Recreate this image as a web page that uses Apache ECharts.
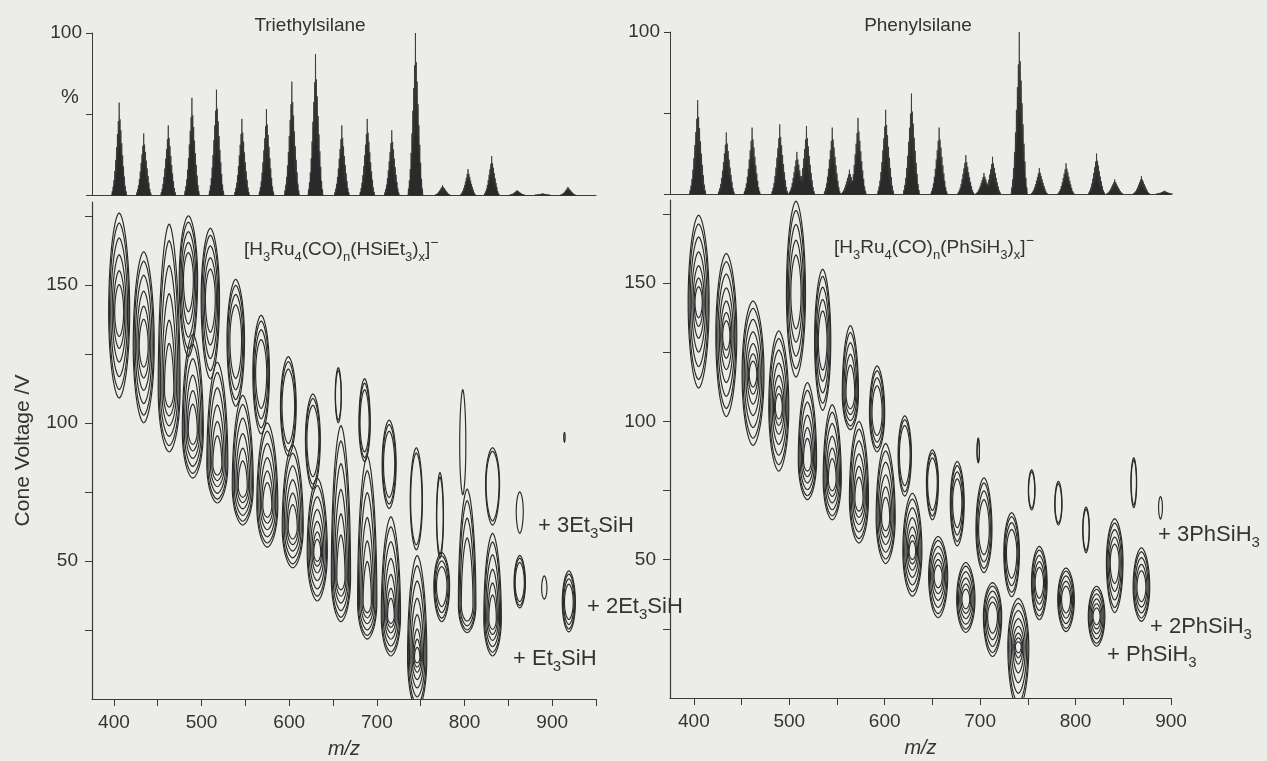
<!DOCTYPE html>
<html>
<head>
<meta charset="utf-8">
<script src="https://cdn.jsdelivr.net/npm/echarts@6/dist/echarts.min.js"></script>
<style>
  html, body { margin: 0; padding: 0; background: #ecece9; }
  #chart { width: 1267px; height: 761px; }
</style>
</head>
<body>
<div id="chart"></div>
<script>
// ---- Summed ESI(-) spectra: cluster centre m/z and relative intensity (%) ----
const ET_PEAK_MZ  = [406, 434, 462, 489, 517, 546, 574, 603, 630, 660, 689, 717, 744, 775, 804, 831, 860, 889, 918];
const ET_PEAK_PCT = [57, 38, 43, 60, 65, 47, 53, 70, 87, 43, 47, 40, 100, 6, 16, 24, 3, 1, 5];

const PH_PEAK_MZ  = [404, 434, 461, 490, 508, 518, 545, 563, 572, 601, 628, 657, 685, 704, 713, 741, 762, 790, 822, 841, 869, 893];
const PH_PEAK_PCT = [58, 38, 41, 43, 26, 42, 41, 15, 47, 52, 62, 41, 24, 13, 23, 100, 16, 19, 25, 9, 11, 2];

// Ru4 isotope envelope of one cluster: offset from centre (Da) and relative height
const ISOTOPE_OFFSETS = [-8, -7, -6, -5, -4, -3, -2, -1, 0, 1, 2, 3, 4, 5, 6, 7, 8];
const ISOTOPE_REL     = [0.04, 0.09, 0.16, 0.26, 0.38, 0.52, 0.66, 0.8, 1.0, 0.82, 0.7, 0.56, 0.43, 0.31, 0.2, 0.1, 0.04];

// ---- Cone-voltage maps: one entry per contour island ----
// [m/z, top V, bottom V, half-width (Da), contour rings, V of innermost ring]
const ET_ISLANDS = [
  [406, 176, 109, 12, 6, 140],
  [434, 162, 100, 12, 6, 128],
  [463, 172, 89.5, 12.5, 6, 112],
  [485, 175, 124, 10.5, 5, 152],
  [490, 132, 80, 12, 6, 97],
  [510, 170.5, 116, 10.5, 5, 145],
  [518, 122, 71, 12, 6, 85],
  [539, 152, 106, 10, 4, 130],
  [547, 110, 63, 12, 6, 77],
  [568, 139, 96, 9.5, 4, 118],
  [575, 100, 55, 12, 6, 70],
  [599, 124, 88, 9, 3, 106],
  [604, 92, 47.5, 12, 6, 62],
  [627, 110.5, 76, 8.5, 3, 94],
  [632, 80, 35.5, 11.5, 7, 53],
  [656, 120, 100, 3.5, 2, 110],
  [659, 99, 28, 11, 6, 44],
  [686, 116, 86, 6.5, 3, 100],
  [689, 88, 21.7, 11, 6, 35],
  [714, 101, 69, 8, 3, 85],
  [716, 66, 15.6, 11, 7, 30],
  [745, 91, 54, 7, 2, 72],
  [746, 52, -4, 11, 8, 15],
  [772, 82, 51, 4, 2, 66],
  [774, 53, 28, 9, 4, 41],
  [798, 112, 74, 3.5, 1, 92],
  [803, 76, 24, 10, 4, 34],
  [832, 91, 63, 8, 2, 78],
  [832, 60, 15.6, 10, 6, 29],
  [863, 75, 60, 4, 1, 68],
  [863, 52, 33, 6.5, 3, 42],
  [891, 44.6, 36.2, 3, 1, 40],
  [919, 46.4, 24.3, 7.5, 4, 35],
  [914, 96.5, 93, 0.8, 1, 95]
];

const PH_ISLANDS = [
  [405, 174.5, 112, 11, 7, 143],
  [434, 160.7, 101.7, 11, 7, 131],
  [462, 143.5, 91.3, 11.5, 7, 117],
  [489, 132.7, 82, 10.5, 7, 105],
  [507, 179.6, 116, 10, 5, 146],
  [519, 114, 71.7, 9.6, 6, 86],
  [535, 155, 104, 8.5, 5, 129],
  [545, 106, 64.4, 9.5, 6, 79],
  [564, 134.6, 97, 8.5, 5, 110],
  [573, 100, 56, 10, 6, 72],
  [592, 120, 89, 8, 4, 103],
  [601, 92, 48.6, 10, 6, 65],
  [621, 102, 73, 7, 3, 88],
  [629, 74, 36.8, 10, 7, 53],
  [650, 89.7, 64.4, 6.3, 3, 78],
  [656, 58.4, 29, 10, 6, 44],
  [676, 85.5, 55, 7.3, 4, 70.6],
  [685, 49, 23.7, 9.6, 6, 35.6],
  [698, 94, 85, 1.3, 2, 89],
  [704, 79.6, 45.3, 8.4, 4, 60.8],
  [713, 41.7, 15, 9.6, 5, 29.5],
  [733, 67, 36.6, 8.2, 4, 52.5],
  [740, 36, -4, 11, 8, 18.6],
  [754, 82.5, 68, 3.5, 2, 75],
  [762, 54.8, 28.3, 8.2, 5, 41.7],
  [782, 78.3, 62.6, 3.8, 2, 70],
  [790, 47, 24, 8.7, 5, 35.6],
  [811, 69, 52.5, 3.5, 2, 61],
  [822, 40.4, 18.7, 8.7, 6, 29.5],
  [841, 64.8, 30.9, 8.7, 5, 49],
  [861, 86.8, 68.8, 3, 2, 78],
  [869, 54.3, 27.7, 8.7, 5, 40],
  [889, 72.8, 64.7, 2, 1, 69]
];

// Relative size of successive contour levels, outermost first
const RING_SCALE = [1, 0.9, 0.75, 0.58, 0.42, 0.28, 0.18, 0.1];

// ---- Axis ticks and labels ----
const MZ_TICKS_ET = [400, 450, 500, 550, 600, 650, 700, 750, 800, 850, 900, 950];
const MZ_TICKS_PH = [400, 450, 500, 550, 600, 650, 700, 750, 800, 850, 900];
const MZ_LABELS   = [400, 500, 600, 700, 800, 900];
const CV_TICKS    = [25, 50, 75, 100, 125, 150, 175];
const CV_LABELS   = [50, 100, 150];
const PCT_TICKS   = [0, 50, 100];
const PCT_LABELS  = [100];

const FONT = "'Liberation Sans', Arial, sans-serif";
const INK = '#333';
const LINE = '#3a3a3a';
const FS = 19;
const FS_NOTE = 22;

// One isotope cluster drawn as a jagged filled envelope of narrow spikes
function renderCluster(params, api) {
  const mz = api.value(0), pct = api.value(1);
  const h = ISOTOPE_REL.map(r => r * pct);
  const n = ISOTOPE_OFFSETS.length;
  const pts = [api.coord([mz + ISOTOPE_OFFSETS[0] - 0.7, 0])];
  for (let i = 0; i < n; i++) {
    const m = mz + ISOTOPE_OFFSETS[i];
    const left = i > 0 ? 0.55 * Math.min(h[i], h[i - 1]) : 0;
    const right = i < n - 1 ? 0.55 * Math.min(h[i], h[i + 1]) : 0;
    pts.push(api.coord([m - 0.45, left]));
    pts.push(api.coord([m, h[i]]));
    pts.push(api.coord([m + 0.45, right]));
  }
  pts.push(api.coord([mz + ISOTOPE_OFFSETS[n - 1] + 0.7, 0]));
  return {
    type: 'polygon',
    shape: { points: pts },
    style: { fill: '#2a2a2a', stroke: '#2a2a2a', lineWidth: 0.7 }
  };
}

// One contour island: nested closed rings that tighten towards the innermost level
function renderIsland(params, api) {
  const mz = api.value(0), top = api.value(1), bot = api.value(2);
  const hw = api.value(3), rings = api.value(4), core = api.value(5);
  const children = [];
  for (let k = 0; k < rings; k++) {
    const s = RING_SCALE[k];
    const t = core + (top - core) * s;
    const b = core - (core - bot) * s;
    const w = Math.max(hw * (0.2 + 0.8 * s), 0.8);
    const pts = [];
    const N = 56;
    for (let i = 0; i < N; i++) {
      const a = (i / N) * Math.PI * 2;
      const c = Math.cos(a), sn = Math.sin(a);
      const v = c >= 0 ? core + (t - core) * c : core + (core - b) * c;
      const dx = w * Math.sign(sn) * Math.pow(Math.abs(sn), 1.15);
      pts.push(api.coord([mz + dx, v]));
    }
    children.push({
      type: 'polygon',
      shape: { points: pts },
      style: { fill: 'none', stroke: '#2a2a2a', lineWidth: 1.15 }
    });
  }
  return { type: 'group', children };
}

const labelStyle = { fontSize: FS, fontFamily: FONT, color: INK };

function spectrumAxes(gridIndex, maxMz) {
  return {
    x: {
      gridIndex, type: 'value', min: 375, max: maxMz,
      axisLine: { show: true, lineStyle: { color: LINE, width: 1 } },
      axisTick: { show: false }, axisLabel: { show: false }, splitLine: { show: false }
    },
    y: {
      gridIndex, type: 'value', min: 0, max: 100,
      axisLine: { show: true, lineStyle: { color: LINE, width: 1 } },
      axisTick: { show: true, length: 6, customValues: PCT_TICKS, lineStyle: { color: LINE } },
      axisLabel: Object.assign({ customValues: PCT_LABELS, margin: 10 }, labelStyle),
      splitLine: { show: false }
    }
  };
}

function mapAxes(gridIndex, maxMz, ticks, withName) {
  return {
    x: {
      gridIndex, type: 'value', min: 375, max: maxMz,
      name: 'm/z', nameLocation: 'middle', nameGap: 40,
      nameTextStyle: { fontSize: 20, fontFamily: FONT, color: INK, fontStyle: 'italic' },
      axisLine: { show: true, lineStyle: { color: LINE, width: 1.2 } },
      axisTick: { show: true, length: 7, customValues: ticks, lineStyle: { color: LINE } },
      axisLabel: Object.assign({ customValues: MZ_LABELS, margin: 14 }, labelStyle),
      splitLine: { show: false }
    },
    y: {
      gridIndex, type: 'value', min: 0, max: 180,
      name: withName ? 'Cone Voltage /V' : '', nameLocation: 'middle', nameGap: 58,
      nameTextStyle: { fontSize: 21, fontFamily: FONT, color: INK },
      axisLine: { show: true, lineStyle: { color: LINE, width: 1.2 } },
      axisTick: { show: true, length: 7, customValues: CV_TICKS, lineStyle: { color: LINE } },
      axisLabel: Object.assign({ customValues: CV_LABELS, margin: 14 }, labelStyle),
      splitLine: { show: false }
    }
  };
}

const sEt = spectrumAxes(0, 950);
const mEt = mapAxes(1, 950, MZ_TICKS_ET, true);
const sPh = spectrumAxes(2, 900);
const mPh = mapAxes(3, 900, MZ_TICKS_PH, false);

function richFor(size) {
  const sub = Math.round(size * 0.68);
  return {
    s: { fontSize: sub, fontFamily: FONT, fill: INK, lineHeight: sub, verticalAlign: 'bottom' },
    u: { fontSize: sub + 1, fontFamily: FONT, fill: INK, lineHeight: sub, verticalAlign: 'top' }
  };
}

function label(x, y, text, size, align) {
  return {
    type: 'text', x, y, silent: true,
    style: {
      text, fontSize: size, fontFamily: FONT, fill: INK, lineHeight: Math.round(size * 1.4),
      align: align || 'left', verticalAlign: 'middle', rich: richFor(size)
    }
  };
}

const gridBase = { containLabel: false, outerBoundsMode: 'none' };

const option = {
  backgroundColor: '#ecece9',
  animation: false,
  grid: [
    Object.assign({ left: 92, top: 33, width: 504, height: 162 }, gridBase),
    Object.assign({ left: 92, top: 202, width: 504, height: 497 }, gridBase),
    Object.assign({ left: 670, top: 32, width: 501, height: 162 }, gridBase),
    Object.assign({ left: 670, top: 200, width: 501, height: 498 }, gridBase)
  ],
  xAxis: [sEt.x, mEt.x, sPh.x, mPh.x],
  yAxis: [sEt.y, mEt.y, sPh.y, mPh.y],
  series: [
    {
      type: 'custom', name: 'Triethylsilane spectrum', xAxisIndex: 0, yAxisIndex: 0,
      renderItem: renderCluster, encode: { x: 0, y: 1 },
      data: ET_PEAK_MZ.map((m, i) => [m, ET_PEAK_PCT[i]])
    },
    {
      type: 'custom', name: 'Triethylsilane map', xAxisIndex: 1, yAxisIndex: 1, clip: true,
      renderItem: renderIsland, encode: { x: 0, y: [1, 2] },
      data: ET_ISLANDS
    },
    {
      type: 'custom', name: 'Phenylsilane spectrum', xAxisIndex: 2, yAxisIndex: 2,
      renderItem: renderCluster, encode: { x: 0, y: 1 },
      data: PH_PEAK_MZ.map((m, i) => [m, PH_PEAK_PCT[i]])
    },
    {
      type: 'custom', name: 'Phenylsilane map', xAxisIndex: 3, yAxisIndex: 3, clip: true,
      renderItem: renderIsland, encode: { x: 0, y: [1, 2] },
      data: PH_ISLANDS
    }
  ],
  graphic: [
    label(310, 26, 'Triethylsilane', 19, 'center'),
    label(918, 26, 'Phenylsilane', 19, 'center'),
    label(70, 97, '%', 20, 'center'),
    label(244, 250, '[H{s|3}Ru{s|4}(CO){s|n}(HSiEt{s|3}){s|x}]{u|−}', 19),
    label(834, 248, '[H{s|3}Ru{s|4}(CO){s|n}(PhSiH{s|3}){s|x}]{u|−}', 19),
    label(538, 526, '+ 3Et{s|3}SiH', FS_NOTE),
    label(587, 607, '+ 2Et{s|3}SiH', FS_NOTE),
    label(513, 659, '+ Et{s|3}SiH', FS_NOTE),
    label(1158, 535, '+ 3PhSiH{s|3}', FS_NOTE),
    label(1150, 627, '+ 2PhSiH{s|3}', FS_NOTE),
    label(1107, 655, '+ PhSiH{s|3}', FS_NOTE)
  ]
};

const chart = echarts.init(document.getElementById('chart'), null, { renderer: 'canvas' });
chart.setOption(option);
</script>
</body>
</html>
